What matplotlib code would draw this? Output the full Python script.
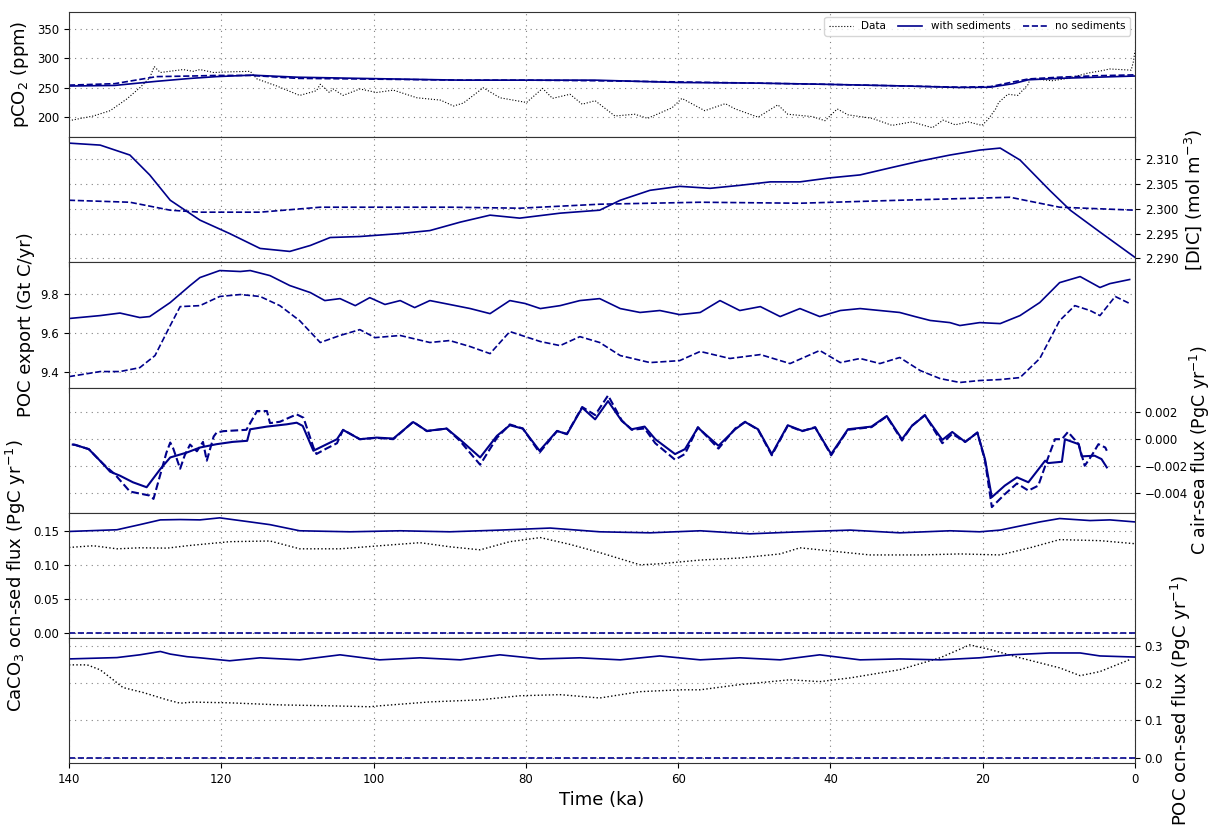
import matplotlib
matplotlib.use("Agg")
import matplotlib.pyplot as plt

# ---------------- data ----------------
# Panel 1: pCO2 (ppm)
pco2_data_t = [140, 136.8, 134.6, 132.4, 130.7, 129.4, 128.8, 128, 125, 123.7, 122.8, 121, 119.3, 116.2,
               115.3, 112.7, 109.7, 107.5, 107, 105.8, 105.3, 104, 101.8, 99.6, 97.4, 94.3, 91.2, 89.5,
               88.2, 85.6, 83.4, 79.9, 77.8, 76.5, 74.2, 72.6, 70.9, 68.3, 65.7, 64, 60.8, 59.5, 56.5,
               53.8, 52.5, 49.5, 46.9, 45.6, 42.4, 40.7, 39.1, 37.7, 34.5, 31.9, 29.3, 26.6, 25.2, 23.6,
               21.9, 20.1, 19.3, 18.3, 17.9, 16.7, 15.4, 14, 13.8, 10.9, 8.8, 6.2, 4.4, 3.3, 0.5, 0.2, 0]
pco2_data_v = [194, 202, 211, 231, 250, 267, 286, 276, 281, 278, 281, 276, 277, 278,
               265, 253, 237, 245, 256, 242, 248, 237, 248, 242, 246, 233, 229, 219,
               224, 250, 233, 225, 249, 232, 239, 222, 228, 202, 205, 198, 216, 232, 211,
               223, 214, 200, 221, 205, 201, 194, 214, 204, 198, 186, 192, 182, 195, 187,
               192, 186, 196, 214, 225, 239, 237, 256, 266, 262, 266, 275, 279, 282, 280, 295, 313]
pco2_t = [140, 134, 128.5, 124, 120.6, 116, 110, 101.8, 88.6, 80, 70.9, 60, 50, 41, 30, 23, 19, 16, 14, 10, 5, 0]
pco2_sed = [253, 254, 261, 266, 269, 271.5, 268, 266, 263, 263, 263, 259, 258, 256, 253, 250.5, 251, 257, 263.6, 266, 268, 270]
pco2_nosed = [254.5, 257, 269, 270, 271, 271, 266, 265, 263, 263, 262, 260, 258, 256, 253, 251, 252, 260, 265, 268, 270.5, 272]

# Panel 2: DIC (mol m-3)
dic_t = [140, 135.9, 132.0, 129.4, 126.7, 122.8, 118.9, 114.9, 111.0, 108.3, 105.7, 101.8, 96.5, 92.6,
         88.6, 84.7, 80.8, 75.5, 70.3, 67.6, 63.7, 59.8, 55.8, 51.9, 47.9, 44.0, 40.1, 36.1, 32.2,
         28.2, 24.3, 20.4, 17.7, 15.1, 11.2, 8.5, 4.6, 0]
dic_sed = [2.3132, 2.3128, 2.3108, 2.3068, 2.3017, 2.2977, 2.2950, 2.2920, 2.2914, 2.2926, 2.2942, 2.2944,
           2.2950, 2.2956, 2.2973, 2.2987, 2.2981, 2.2991, 2.2997, 2.3017, 2.3037, 2.3045, 2.3041, 2.3047,
           2.3054, 2.3054, 2.3062, 2.3068, 2.3082, 2.3096, 2.3108, 2.3118, 2.3122, 2.3098, 2.3037, 2.2997,
           2.2953, 2.2902]
dic_nosed_t = [140, 132.0, 126.7, 122.8, 114.9, 107.0, 89.9, 80.8, 70.3, 57.1, 44.0, 30.9, 16.4, 9.9, 0]
dic_nosed = [2.3017, 2.3013, 2.2997, 2.2993, 2.2993, 2.3003, 2.3003, 2.3001, 2.3009, 2.3013, 2.3011, 2.3017,
             2.3023, 2.3003, 2.2997]

# Panel 3: POC export (Gt C/yr)
poc_t = [140, 135.9, 133.3, 130.7, 129.4, 126.7, 124.1, 122.8, 120.2, 117.5, 116.2, 113.6, 111.0, 108.3,
         106.4, 104.4, 102.4, 100.5, 98.5, 96.5, 94.6, 92.6, 90.0, 87.3, 84.7, 82.1, 80.1, 78.1, 75.5,
         72.9, 70.3, 67.6, 65.0, 62.4, 59.8, 57.1, 54.5, 51.9, 49.2, 46.6, 44.0, 41.4, 38.7, 36.1, 33.5,
         30.9, 28.9, 26.9, 24.3, 23.0, 20.4, 17.7, 15.1, 12.5, 9.9, 7.2, 4.6, 3.3, 0.7]
poc_sed = [9.672, 9.687, 9.700, 9.677, 9.682, 9.754, 9.841, 9.882, 9.918, 9.913, 9.918, 9.892, 9.841, 9.805,
           9.764, 9.774, 9.738, 9.779, 9.744, 9.764, 9.728, 9.764, 9.744, 9.723, 9.697, 9.764, 9.749, 9.723,
           9.738, 9.764, 9.774, 9.723, 9.703, 9.713, 9.692, 9.703, 9.764, 9.713, 9.733, 9.682, 9.723, 9.682,
           9.713, 9.723, 9.713, 9.703, 9.682, 9.662, 9.651, 9.636, 9.651, 9.646, 9.687, 9.754, 9.856, 9.887,
           9.831, 9.851, 9.872]
pocn_t = [140, 135.9, 133.3, 130.7, 128.7, 126.7, 125.4, 122.8, 120.2, 117.5, 114.9, 112.3, 109.7, 107.0,
          104.4, 101.8, 99.8, 96.5, 92.6, 90.0, 87.3, 84.7, 82.1, 78.1, 75.5, 72.9, 70.3, 67.6, 63.7, 59.8,
          57.1, 53.2, 49.2, 45.3, 41.4, 38.7, 36.1, 33.5, 30.9, 28.2, 25.6, 23.0, 20.4, 17.7, 15.1, 12.5,
          9.9, 7.9, 5.9, 4.6, 2.6, 0.7]
poc_nosed = [9.374, 9.400, 9.400, 9.420, 9.482, 9.636, 9.733, 9.738, 9.785, 9.795, 9.785, 9.738, 9.661,
             9.549, 9.585, 9.615, 9.574, 9.585, 9.549, 9.559, 9.528, 9.492, 9.605, 9.554, 9.533, 9.579,
             9.549, 9.482, 9.446, 9.456, 9.503, 9.467, 9.487, 9.441, 9.508, 9.446, 9.467, 9.441, 9.472,
             9.405, 9.364, 9.344, 9.354, 9.359, 9.369, 9.467, 9.661, 9.738, 9.713, 9.687, 9.785, 9.749]

# Panel 4: C air-sea flux (PgC/yr)
air_t = [139.5, 139.2, 137.4, 135.5, 134.6, 133.3, 131.6, 129.8, 128.0, 126.7, 124.5, 122.8, 120.6, 118.5,
         116.6, 116.2, 114.0, 111.4, 110.1, 109.3, 107.9, 106.6, 104.8, 104.0, 101.8, 99.6, 97.4, 94.8,
         93.0, 90.4, 88.7, 86.0, 83.8, 82.1, 80.4, 78.2, 75.9, 74.6, 72.6, 70.9, 69.2, 67.4, 66.1, 64.4,
         63.0, 60.4, 59.1, 57.4, 54.7, 52.5, 51.2, 49.5, 47.7, 45.6, 43.7, 42.0, 39.9, 37.7, 34.6, 32.6,
         30.6, 29.3, 27.6, 25.3, 24.0, 22.3, 20.7, 19.7, 18.8, 17.1, 15.5, 14.0, 11.8, 11.4, 9.6, 9.2,
         7.4, 7.0, 5.3, 4.4, 3.7]
air_sed = [-0.0004, -0.00042, -0.00074, -0.00185, -0.00242, -0.00272, -0.00321, -0.00358, -0.00222,
           -0.00136, -0.00099, -0.00062, -0.00037, -0.0002, -0.00012, 0.00074, 0.00094, 0.00111, 0.00123,
           0.00099, -0.00086, -0.0005, 0.0, 0.00069, 0.0, 0.00012, 0.00005, 0.00128, 0.00062, 0.00079,
           0.0, -0.00136, 0.00025, 0.00104, 0.00079, -0.00086, 0.00062, 0.00037, 0.00235, 0.00148,
           0.00284, 0.00136, 0.00074, 0.00094, 0.0, -0.00111, -0.00074, 0.00086, -0.00049, 0.00074,
           0.00128, 0.00074, -0.00111, 0.00104, 0.00062, 0.00086, -0.00111, 0.00074, 0.00094, 0.00173,
           0.0, 0.00099, 0.00178, -0.00005, 0.00054, -0.0002, 0.00049, -0.00148, -0.00432, -0.00346,
           -0.00284, -0.00321, -0.0016, -0.00178, -0.00168, 0.0, -0.00037, -0.00128, -0.00123, -0.00148,
           -0.0021]
airn_t = [139.5, 139.2, 137.4, 135.5, 134.0, 132.0, 129.4, 128.9, 127.2, 126.7, 126.3, 125.4, 124.8, 124.1,
          123.2, 122.4, 121.9, 121.0, 120.6, 119.7, 116.7, 115.3, 114.0, 113.6, 112.3, 110.1, 109.2, 107.9,
          107.5, 106.2, 104.8, 104.0, 101.8, 99.6, 97.4, 94.8, 93.0, 90.4, 88.7, 86.0, 83.8, 82.1, 80.4,
          78.2, 75.9, 74.6, 72.6, 70.9, 69.2, 67.4, 66.1, 64.4, 63.0, 60.4, 59.1, 57.4, 54.7, 52.5, 51.2,
          49.5, 47.7, 45.6, 43.7, 42.0, 39.9, 37.7, 34.6, 32.6, 30.6, 29.3, 27.6, 25.3, 24.0, 22.3, 20.7,
          19.7, 18.8, 17.1, 15.5, 14.0, 12.7, 11.4, 10.5, 9.6, 8.8, 7.4, 6.6, 5.7, 4.8, 3.9, 3.7]
air_nosed = [-0.0004, -0.00042, -0.00074, -0.00185, -0.0026, -0.0039, -0.0042, -0.00445, -0.001, -0.00025,
             -0.0007, -0.0022, -0.0012, -0.0004, -0.0009, -0.0002, -0.0016, 0.0002, 0.0005, 0.0006, 0.0007,
             0.0021, 0.0021, 0.0012, 0.0013, 0.00185, 0.0016, -0.0006, -0.0011, -0.0007, -0.0003, 0.0007,
             0.0, 0.0001, 0.0, 0.0013, 0.0006, 0.0008, -0.0001, -0.0019, 0.0001, 0.0011, 0.0008, -0.0010,
             0.0006, 0.0004, 0.0024, 0.0018, 0.00326, 0.0014, 0.0007, 0.0008, -0.0003, -0.00153, -0.0011,
             0.0009, -0.0007, 0.0008, 0.0013, 0.0007, -0.0012, 0.001, 0.0006, 0.0009, -0.0012, 0.0007,
             0.0009, 0.0017, -0.0001, 0.001, 0.0018, -0.0003, 0.0004, -0.0002, 0.0005, -0.0016, -0.00506,
             -0.0041, -0.0033, -0.00383, -0.00346, -0.00136, 0.0, 0.0, 0.00054, -0.00037, -0.00198,
             -0.00123, -0.00037, -0.00062, -0.00086]

# Panel 5: CaCO3 ocean-sediment flux (PgC/yr)
caco3_t = [140, 133.7, 130.7, 128.0, 125.4, 122.8, 120.2, 116.2, 113.6, 109.7, 103.1, 96.5, 90.0, 83.4,
           76.8, 70.3, 63.7, 57.1, 50.6, 44.0, 37.4, 30.9, 24.3, 20.4, 17.7, 12.5, 9.9, 5.9, 3.3, 0]
caco3_sed = [0.149, 0.1515, 0.159, 0.166, 0.1665, 0.166, 0.169, 0.163, 0.159, 0.150, 0.1485, 0.150, 0.1485,
             0.151, 0.154, 0.1485, 0.147, 0.150, 0.1455, 0.1485, 0.151, 0.1470, 0.150, 0.1485, 0.151, 0.163,
             0.168, 0.165, 0.166, 0.163]
caco3d_t = [140, 136.8, 133.7, 130.7, 127.1, 124.5, 118.9, 113.6, 109.7, 104.4, 99.2, 93.9, 90.0, 86.0,
            82.1, 78.1, 74.2, 70.3, 65.0, 62.4, 57.1, 51.9, 46.6, 44.0, 40.1, 34.8, 28.2, 23.0, 17.7, 13.8,
            9.9, 4.6, 0]
caco3_data = [0.1255, 0.128, 0.1235, 0.125, 0.1245, 0.128, 0.134, 0.135, 0.1235, 0.1235, 0.128, 0.1325,
              0.1265, 0.122, 0.134, 0.140, 0.130, 0.118, 0.100, 0.1015, 0.107, 0.110, 0.116, 0.125, 0.1205,
              0.1145, 0.1145, 0.116, 0.1145, 0.125, 0.137, 0.1355, 0.131]
caco3_nosed_t = [140, 0]
caco3_nosed = [0.0, 0.0]

# Panel 6: POC ocean-sediment flux (PgC/yr)
pocs_t = [140, 133.7, 130.7, 128.0, 126.7, 124.5, 122.8, 118.9, 114.9, 109.7, 104.4, 99.2, 93.9, 88.6,
          83.4, 78.1, 72.9, 67.6, 62.4, 57.1, 51.9, 46.6, 41.4, 36.1, 30.9, 25.6, 20.4, 16.4, 11.2, 7.2,
          4.6, 0]
pocs_sed = [0.265, 0.2686, 0.276, 0.285, 0.278, 0.271, 0.268, 0.260, 0.268, 0.2625, 0.276, 0.2625, 0.268,
            0.2625, 0.276, 0.265, 0.268, 0.2625, 0.273, 0.2625, 0.268, 0.2625, 0.276, 0.2625, 0.265,
            0.2625, 0.268, 0.276, 0.281, 0.281, 0.273, 0.270]
pocsd_t = [140, 137.6, 135.9, 134.2, 132.9, 130.3, 127.1, 125.4, 123.7, 118.9, 112.3, 105.7, 100.5, 99.2,
           92.6, 86.0, 80.8, 75.5, 70.3, 65.0, 59.8, 57.1, 51.9, 45.3, 41.4, 37.4, 30.9, 25.6, 21.7,
           19.0, 15.1, 9.9, 7.2, 4.6, 0.7]
pocs_data = [0.249, 0.249, 0.2357, 0.209, 0.188, 0.175, 0.155, 0.146, 0.149, 0.147, 0.1415, 0.139, 0.1365,
             0.139, 0.1495, 0.155, 0.166, 0.169, 0.160, 0.177, 0.182, 0.182, 0.196, 0.209, 0.204, 0.214,
             0.236, 0.268, 0.3027, 0.290, 0.268, 0.241, 0.220, 0.231, 0.263]
pocs_nosed_t = [140, 0]
pocs_nosed = [0.0, 0.0]

# ---------------- figure ----------------
NAVY = '#00008B'
LABEL_FS = 13
TICK_FS = 8.5
fig, axes = plt.subplots(6, 1, sharex=True, figsize=(12.1, 8.25), dpi=100)
fig.subplots_adjust(left=0.057, right=0.938, top=0.9855, bottom=0.075, hspace=0)

lw = 1.2
ax = axes[0]
ax.plot(pco2_data_t, pco2_data_v, ':', color='black', lw=0.8, label='Data')
ax.plot(pco2_t, pco2_sed, '-', color=NAVY, lw=lw, label='with sediments')
ax.plot(pco2_t, pco2_nosed, '--', color=NAVY, lw=lw, label='no sediments')
ax.set_ylim(166, 379)
ax.set_yticks([200, 250, 300, 350])
ax.set_ylabel('pCO$_2$ (ppm)', fontsize=LABEL_FS)
ax.legend(loc='upper right', ncol=3, fontsize=7.5, handlelength=2.3, borderpad=0.4,
          columnspacing=1.2, handletextpad=0.8)

ax = axes[1]
ax.plot(dic_t, dic_sed, '-', color=NAVY, lw=lw)
ax.plot(dic_nosed_t, dic_nosed, '--', color=NAVY, lw=lw)
ax.set_ylim(2.2892, 2.3144)
ax.set_yticks([2.290, 2.295, 2.300, 2.305, 2.310])
ax.set_yticklabels(['2.290', '2.295', '2.300', '2.305', '2.310'])
ax.yaxis.tick_right()
ax.yaxis.set_label_position('right')
ax.set_ylabel('[DIC] (mol m$^{-3}$)', fontsize=LABEL_FS, labelpad=3)

ax = axes[2]
ax.plot(poc_t, poc_sed, '-', color=NAVY, lw=lw)
ax.plot(pocn_t, poc_nosed, '--', color=NAVY, lw=lw)
ax.set_ylim(9.318, 9.96)
ax.set_yticks([9.4, 9.6, 9.8])
ax.set_ylabel('POC export (Gt C/yr)', fontsize=LABEL_FS)

ax = axes[3]
ax.plot(air_t, air_sed, '-', color=NAVY, lw=1.5)
ax.plot(airn_t, air_nosed, '--', color=NAVY, lw=1.5)
ax.set_ylim(-0.00548, 0.00385)
ax.set_yticks([-0.004, -0.002, 0.0, 0.002])
ax.set_yticklabels(['\u22120.004', '\u22120.002', '0.000', '0.002'])
ax.yaxis.tick_right()
ax.yaxis.set_label_position('right')
ax.set_ylabel('C air-sea flux (PgC yr$^{-1}$)', fontsize=12.5, labelpad=0)

ax = axes[4]
ax.plot(caco3d_t, caco3_data, ':', color='black', lw=1.0)
ax.plot(caco3_t, caco3_sed, '-', color=NAVY, lw=lw)
ax.plot(caco3_nosed_t, caco3_nosed, '--', color=NAVY, lw=lw)
ax.set_ylim(-0.0074, 0.1765)
ax.set_yticks([0.0, 0.05, 0.10, 0.15])
ax.set_yticklabels(['0.00', '0.05', '0.10', '0.15'])
ax.set_ylabel('CaCO$_3$ ocn-sed flux (PgC yr$^{-1}$)', fontsize=LABEL_FS)

ax = axes[5]
ax.plot(pocsd_t, pocs_data, ':', color='black', lw=1.0)
ax.plot(pocs_t, pocs_sed, '-', color=NAVY, lw=lw)
ax.plot(pocs_nosed_t, pocs_nosed, '--', color=NAVY, lw=lw)
ax.set_ylim(-0.015, 0.3214)
ax.set_yticks([0.0, 0.1, 0.2, 0.3])
ax.yaxis.tick_right()
ax.yaxis.set_label_position('right')
ax.set_ylabel('POC ocn-sed flux (PgC yr$^{-1}$)', fontsize=LABEL_FS)

for a in axes:
    a.grid(True, linestyle=(0, (1, 4)), color='gray', linewidth=0.8)
    a.tick_params(labelsize=TICK_FS)
    for s in a.spines.values():
        s.set_color('#333333')

axes[-1].set_xlim(140, 0)
axes[-1].set_xticks([140, 120, 100, 80, 60, 40, 20, 0])
axes[-1].set_xlabel('Time (ka)', fontsize=LABEL_FS)

fig.savefig('out.png', dpi=100)
